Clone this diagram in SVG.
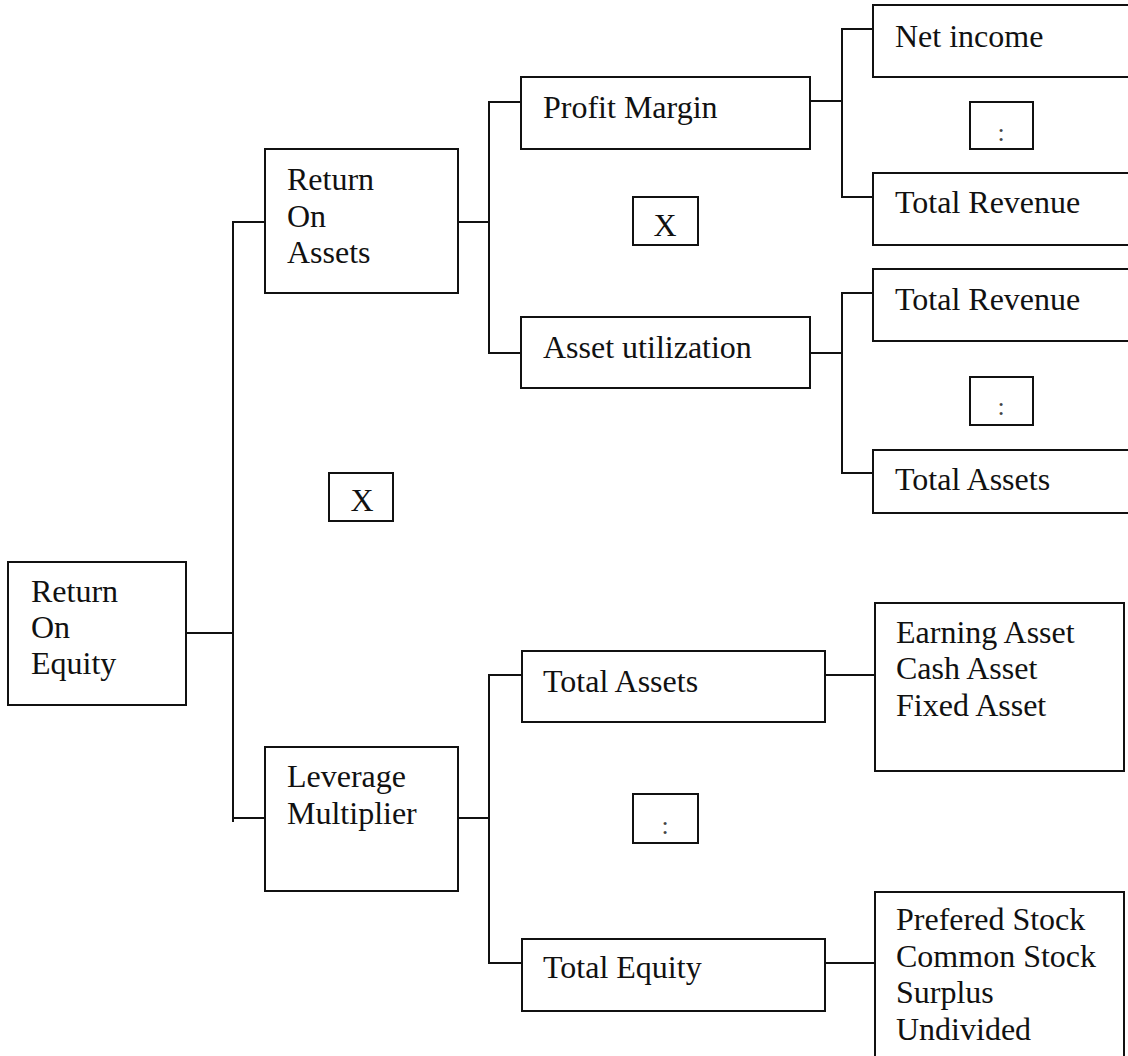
<svg xmlns="http://www.w3.org/2000/svg" width="1128" height="1056" viewBox="0 0 1128 1056">
<style>
rect{fill:#fff;stroke:#111;stroke-width:2}
.c line{stroke:#111;stroke-width:2}
text{font-family:"Liberation Serif","Times New Roman",serif;font-size:32px;fill:#111}
.op{text-anchor:middle}
.colon{text-anchor:middle;font-size:26px;fill:#444}
</style>
<rect x="0" y="0" width="1128" height="1056" style="fill:#fff;stroke:none"/>
<g class="c" id="connectors">
<line x1="186" y1="633" x2="233" y2="633"/>
<line x1="233" y1="221" x2="233" y2="822"/>
<line x1="233" y1="222" x2="265" y2="222"/>
<line x1="233" y1="818" x2="265" y2="818"/>
<line x1="458" y1="222" x2="489" y2="222"/>
<line x1="489" y1="101" x2="489" y2="354"/>
<line x1="489" y1="102" x2="521" y2="102"/>
<line x1="489" y1="353" x2="521" y2="353"/>
<line x1="810" y1="101" x2="842" y2="101"/>
<line x1="842" y1="28" x2="842" y2="198"/>
<line x1="842" y1="29" x2="873" y2="29"/>
<line x1="842" y1="197" x2="873" y2="197"/>
<line x1="810" y1="353" x2="842" y2="353"/>
<line x1="842" y1="292" x2="842" y2="474"/>
<line x1="842" y1="293" x2="873" y2="293"/>
<line x1="842" y1="473" x2="873" y2="473"/>
<line x1="458" y1="818" x2="489" y2="818"/>
<line x1="489" y1="674" x2="489" y2="964"/>
<line x1="489" y1="675" x2="522" y2="675"/>
<line x1="489" y1="963" x2="522" y2="963"/>
<line x1="825" y1="675" x2="875" y2="675"/>
<line x1="825" y1="963" x2="875" y2="963"/>
</g>
<g id="roe"><rect x="8" y="562" width="178" height="143"/>
<text x="31" y="602">Return</text><text x="31" y="638">On</text><text x="31" y="674">Equity</text></g>
<g id="roa"><rect x="265" y="149" width="193" height="144"/>
<text x="287" y="190">Return</text><text x="287" y="227">On</text><text x="287" y="263">Assets</text></g>
<g id="lev"><rect x="265" y="747" width="193" height="144"/>
<text x="287" y="787">Leverage</text><text x="287" y="824">Multiplier</text></g>
<g id="op-x-mid"><rect x="329" y="473" width="64" height="48"/><text class="op" x="362" y="511">X</text></g>
<g id="pm"><rect x="521" y="77" width="289" height="72"/><text x="543" y="118">Profit Margin</text></g>
<g id="op-x-top"><rect x="633" y="197" width="65" height="48"/><text class="op" x="665" y="236">X</text></g>
<g id="au"><rect x="521" y="317" width="289" height="71"/><text x="543" y="358">Asset utilization</text></g>
<g id="ta-mid"><rect x="522" y="651" width="303" height="71"/><text x="543" y="692">Total Assets</text></g>
<g id="op-div-mid"><rect x="633" y="794" width="65" height="49"/><text class="colon" x="665" y="834">:</text></g>
<g id="te"><rect x="522" y="939" width="303" height="72"/><text x="543" y="978">Total Equity</text></g>
<g id="ni"><rect x="873" y="5" width="270" height="72"/><text x="895" y="47">Net income</text></g>
<g id="op-div-1"><rect x="970" y="102" width="63" height="47"/><text class="colon" x="1001" y="141">:</text></g>
<g id="tr1"><rect x="873" y="173" width="270" height="72"/><text x="895" y="213">Total Revenue</text></g>
<g id="tr2"><rect x="873" y="269" width="270" height="72"/><text x="895" y="310">Total Revenue</text></g>
<g id="op-div-2"><rect x="970" y="377" width="63" height="48"/><text class="colon" x="1001" y="415">:</text></g>
<g id="ta-r"><rect x="873" y="450" width="270" height="63"/><text x="895" y="490">Total Assets</text></g>
<g id="assets-list"><rect x="875" y="603" width="249" height="168"/>
<text x="896" y="643">Earning Asset</text><text x="896" y="679">Cash Asset</text><text x="896" y="716">Fixed Asset</text></g>
<g id="equity-list"><rect x="875" y="892" width="249" height="180"/>
<text x="896" y="930">Prefered Stock</text><text x="896" y="967">Common Stock</text><text x="896" y="1003">Surplus</text><text x="896" y="1040">Undivided</text></g>
</svg>
